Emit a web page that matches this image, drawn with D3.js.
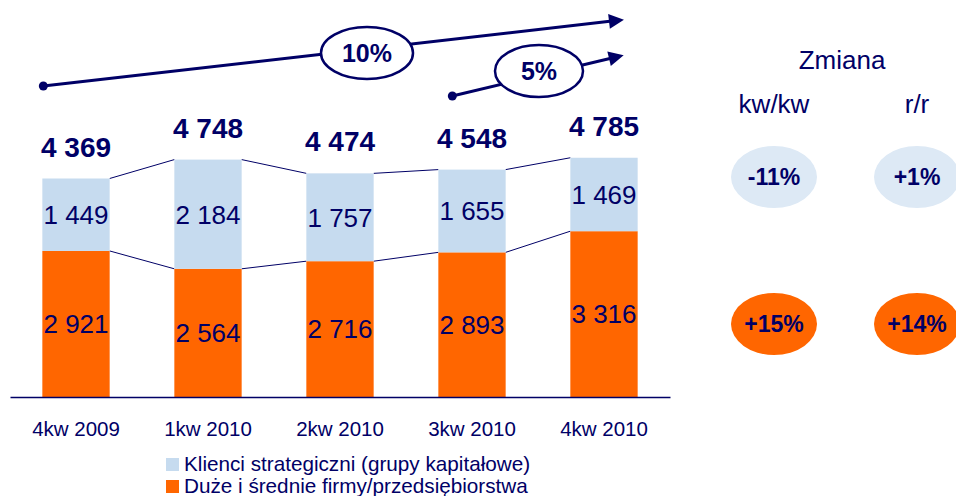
<!DOCTYPE html>
<html>
<head>
<meta charset="utf-8">
<script src="https://cdn.jsdelivr.net/npm/d3@7"></script>
<style>
  body { margin: 0; background: #fff; }
  svg { display: block; font-family: "Liberation Sans", Arial, sans-serif; }
</style>
</head>
<body>
<svg id="chart" width="956" height="496"></svg>
<script>
var categories = ["4kw 2009", "1kw 2010", "2kw 2010", "3kw 2010", "4kw 2010"];
var firms = [2921, 2564, 2716, 2893, 3316];      // Duże i średnie firmy/przedsiębiorstwa
var strategic = [1449, 2184, 1757, 1655, 1469];  // Klienci strategiczni
var totals = [4369, 4748, 4474, 4548, 4785];
var seriesNames = ["Klienci strategiczni (grupy kapitałowe)", "Duże i średnie firmy/przedsiębiorstwa"];
var growthLabels = ["10%", "5%"];
var changeHeaders = ["kw/kw", "r/r"];
var changeStrategic = ["-11%", "+1%"];
var changeFirms = ["+15%", "+14%"];

var navy = "#000066",
    blue = "#c6dbef",
    blueLight = "#dde9f5",
    orange = "#ff6600";

var svg = d3.select("#chart");

var x = d3.scaleBand()
  .domain(categories)
  .range([10, 670])
  .paddingInner(0.49)
  .paddingOuter(0.245);

var y = d3.scaleLinear()
  .domain([0, 5000])
  .range([397, 147]);

var rows = categories.map(function (c, i) {
  return { cat: c, firms: firms[i], strategic: strategic[i], total: totals[i] };
});

var stack = d3.stack().keys(["firms", "strategic"])(rows);
var fills = { firms: orange, strategic: blue };

// connector lines between bar tops
["firms", "strategic"].forEach(function (key, k) {
  var layer = stack[k];
  for (var i = 0; i < layer.length - 1; i++) {
    svg.append("line")
      .attr("x1", x(categories[i]) + x.bandwidth())
      .attr("y1", y(layer[i][1]))
      .attr("x2", x(categories[i + 1]))
      .attr("y2", y(layer[i + 1][1]))
      .attr("stroke", navy)
      .attr("stroke-width", 1);
  }
});

// bars
var layers = svg.selectAll("g.layer")
  .data(stack)
  .enter().append("g")
  .attr("class", "layer")
  .attr("fill", function (d) { return fills[d.key]; });

layers.selectAll("rect")
  .data(function (d) { return d; })
  .enter().append("rect")
  .attr("x", function (d) { return x(d.data.cat); })
  .attr("y", function (d) { return y(d[1]); })
  .attr("width", x.bandwidth())
  .attr("height", function (d) { return y(d[0]) - y(d[1]); });

// segment labels
layers.selectAll("text")
  .data(function (d) { return d.map(function (p) { return { p: p, key: d.key }; }); })
  .enter().append("text")
  .attr("x", function (d) { return x(d.p.data.cat) + x.bandwidth() / 2; })
  .attr("y", function (d) { return (y(d.p[0]) + y(d.p[1])) / 2; })
  .attr("dy", "0.36em")
  .attr("text-anchor", "middle")
  .attr("fill", navy)
  .style("font-size", "26px")
  .text(function (d) { return d3.format(",")(d.p.data[d.key]).replace(",", " "); });

// totals
svg.selectAll("text.total")
  .data(rows)
  .enter().append("text")
  .attr("class", "total")
  .attr("x", function (d) { return x(d.cat) + x.bandwidth() / 2; })
  .attr("y", function (d) { return y(d.total) - 22; })
  .attr("text-anchor", "middle")
  .attr("fill", navy)
  .style("font-size", "28px")
  .style("font-weight", "bold")
  .text(function (d) { return d3.format(",")(d.total).replace(",", " "); });

// x axis
var axis = svg.append("g")
  .attr("transform", "translate(0," + y(0) + ")")
  .call(d3.axisBottom(x).tickSize(0).tickPadding(24));
axis.select(".domain").attr("stroke", navy).attr("stroke-width", 1.5);
axis.selectAll("text")
  .attr("fill", navy)
  .style("font-size", "20.5px")
  .style("font-family", "Liberation Sans, Arial, sans-serif");

// legend
var legend = svg.append("g").attr("transform", "translate(166,458)");
[blue, orange].forEach(function (c, i) {
  legend.append("rect")
    .attr("x", 0).attr("y", i * 22)
    .attr("width", 13).attr("height", 13)
    .attr("fill", c);
  legend.append("text")
    .attr("x", 18).attr("y", i * 22 + 13)
    .attr("fill", navy)
    .style("font-size", "20.7px")
    .text(seriesNames[i]);
});

// growth arrows
svg.append("defs").append("marker")
  .attr("id", "head")
  .attr("viewBox", "0 0 10 10")
  .attr("refX", 2).attr("refY", 5)
  .attr("markerWidth", 6).attr("markerHeight", 5)
  .attr("markerUnits", "strokeWidth")
  .attr("orient", "auto")
  .append("path")
  .attr("d", "M0,0L10,5L0,10Z")
  .attr("fill", navy);

var arrows = [
  { x1: x(categories[0]) + 1, y1: 86, x2: 612, y2: 21, cx: 367, cy: 53, rx: 46, ry: 26 },
  { x1: x(categories[3]) + 14, y1: 96, x2: 612, y2: 58, cx: 539, cy: 71, rx: 44, ry: 26 }
];
arrows.forEach(function (a, i) {
  svg.append("line")
    .attr("x1", a.x1).attr("y1", a.y1)
    .attr("x2", a.x2).attr("y2", a.y2)
    .attr("stroke", navy)
    .attr("stroke-width", 3)
    .attr("marker-end", "url(#head)");
  svg.append("circle")
    .attr("cx", a.x1).attr("cy", a.y1).attr("r", 4.5)
    .attr("fill", navy);
  svg.append("ellipse")
    .attr("cx", a.cx).attr("cy", a.cy)
    .attr("rx", a.rx).attr("ry", a.ry)
    .attr("fill", "#fff")
    .attr("stroke", navy)
    .attr("stroke-width", 2.5);
  svg.append("text")
    .attr("x", a.cx).attr("y", a.cy)
    .attr("dy", "0.36em")
    .attr("text-anchor", "middle")
    .attr("fill", navy)
    .style("font-size", "25px")
    .style("font-weight", "bold")
    .text(growthLabels[i]);
});

// change panel
var colX = [774, 917];
svg.append("text")
  .attr("x", 842).attr("y", 69)
  .attr("text-anchor", "middle")
  .attr("fill", navy)
  .style("font-size", "26px")
  .text("Zmiana");

colX.forEach(function (cx, i) {
  svg.append("text")
    .attr("x", cx).attr("y", 113)
    .attr("text-anchor", "middle")
    .attr("fill", navy)
    .style("font-size", "26px")
    .text(changeHeaders[i]);

  [[changeStrategic[i], blueLight, 177], [changeFirms[i], orange, 324]].forEach(function (b) {
    svg.append("ellipse")
      .attr("cx", cx).attr("cy", b[2])
      .attr("rx", 43).attr("ry", 31)
      .attr("fill", b[1]);
    svg.append("text")
      .attr("x", cx).attr("y", b[2])
      .attr("dy", "0.36em")
      .attr("text-anchor", "middle")
      .attr("fill", navy)
      .style("font-size", "23px")
      .style("font-weight", "bold")
      .text(b[0]);
  });
});
</script>
</body>
</html>
